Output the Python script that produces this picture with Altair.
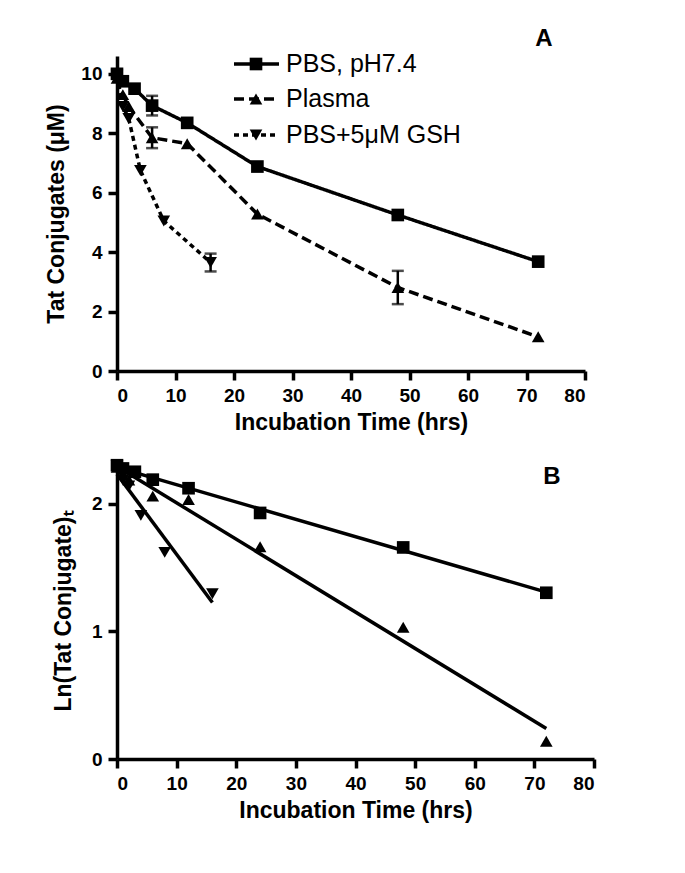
import altair as alt
import pandas as pd

series = ["PBS, pH7.4", "Plasma", "PBS+5\u03bcM GSH"]
shapes = ["square", "triangle-up", "triangle-down"]
dashes = [[1, 0], [10, 5], [5, 4]]

pbs_t = [0, 1, 3, 6, 12, 24, 48, 72]
pbs_v = [10.0, 9.75, 9.5, 8.93, 8.35, 6.88, 5.25, 3.68]
pbs_err = [0, 0, 0, 0.33, 0, 0, 0, 0]

plasma_t = [0, 1, 2, 6, 12, 24, 48, 72]
plasma_v = [9.85, 9.3, 8.9, 7.85, 7.65, 5.28, 2.81, 1.15]
plasma_err = [0, 0, 0, 0.35, 0, 0, 0.56, 0]

gsh_t = [0, 1, 2, 4, 8, 16]
gsh_v = [9.95, 8.9, 8.5, 6.75, 5.05, 3.65]
gsh_err = [0, 0, 0, 0, 0, 0.3]

rows = []
for name, ts, vs, es in [(series[0], pbs_t, pbs_v, pbs_err),
                         (series[1], plasma_t, plasma_v, plasma_err),
                         (series[2], gsh_t, gsh_v, gsh_err)]:
    for t, v, e in zip(ts, vs, es):
        rows.append({"series": name, "t": t, "v": v, "err": e})
df = pd.DataFrame(rows)

FONT = "Liberation Sans"
shape_scale = alt.Scale(domain=series, range=shapes)
dash_scale = alt.Scale(domain=series, range=dashes)

xA = alt.X("t:Q", scale=alt.Scale(domain=[0, 80], nice=False),
           axis=alt.Axis(values=list(range(0, 81, 10)), title="Incubation Time (hrs)"))
yA_title = "Tat Conjugates (\u03bcM)"
yA_scale = alt.Scale(domain=[0, 10.6], nice=False)
yA_axis = alt.Axis(values=[0, 2, 4, 6, 8, 10], title=yA_title, titlePadding=12)

base = alt.Chart(df)
lineA = base.mark_line(color="black", strokeWidth=3.5).encode(
    x=xA, y=alt.Y("v:Q", scale=yA_scale, axis=yA_axis),
    strokeDash=alt.StrokeDash("series:N", scale=dash_scale, legend=None),
    detail="series:N")
ptsA = base.mark_point(filled=True, color="black", opacity=1, size=160).encode(
    x=xA, y=alt.Y("v:Q", scale=yA_scale, axis=yA_axis),
    shape=alt.Shape("series:N", scale=shape_scale, legend=None))
errbase = base.transform_filter("datum.err > 0").transform_calculate(
    lo="datum.v - datum.err", hi="datum.v + datum.err")
errA = errbase.mark_rule(color="black", strokeWidth=2.5).encode(
    x=xA, y=alt.Y("lo:Q", scale=yA_scale, axis=yA_axis), y2="hi:Q")
capLo = errbase.mark_tick(color="black", orient="horizontal", size=12, thickness=2.5).encode(
    x=xA, y=alt.Y("lo:Q", scale=yA_scale, axis=yA_axis))
capHi = errbase.mark_tick(color="black", orient="horizontal", size=12, thickness=2.5).encode(
    x=xA, y=alt.Y("hi:Q", scale=yA_scale, axis=yA_axis))

leg_layers = []
leg_y = [8, 43, 79]
for name, shp, dsh, yy in zip(series, shapes, dashes, leg_y):
    ld = alt.Chart(pd.DataFrame({"label": [name]}))
    leg_layers.append(ld.mark_rule(color="black", strokeWidth=3.5, strokeDash=dsh).encode(
        x=alt.value(117), x2=alt.value(162), y=alt.value(yy)))
    leg_layers.append(ld.mark_point(filled=True, color="black", opacity=1, size=160, shape=shp).encode(
        x=alt.value(139), y=alt.value(yy)))
    leg_layers.append(ld.mark_text(align="left", baseline="middle", fontSize=25, font=FONT).encode(
        x=alt.value(169), y=alt.value(yy), text="label:N"))

letterA = alt.Chart(pd.DataFrame({"p": ["A"]})).mark_text(
    fontSize=24, fontWeight="bold", font=FONT, baseline="middle", align="center").encode(
    x=alt.value(427), y=alt.value(-17), text="p:N")

panelA = alt.layer(lineA, errA, capLo, capHi, ptsA, *leg_layers, letterA).properties(
    width=468, height=315)

# Panel B: natural log of the same values with linear fits
xB = alt.X("t:Q", scale=alt.Scale(domain=[0, 80], nice=False),
           axis=alt.Axis(values=list(range(0, 81, 10)), title="Incubation Time (hrs)"))
yB_scale = alt.Scale(domain=[0, 2.32], nice=False)
yB_axis = alt.Axis(values=[0, 1, 2], title="Ln(Tat Conjugate)\u209c", titlePadding=16)
lnbase = base.transform_calculate(lnv="log(datum.v)")
fitB = lnbase.transform_regression("t", "lnv", groupby=["series"]).mark_line(
    color="black", strokeWidth=3.5).encode(
    x=xB, y=alt.Y("lnv:Q", scale=yB_scale, axis=yB_axis), detail="series:N")
ptsB = lnbase.mark_point(filled=True, color="black", opacity=1, size=160).encode(
    x=xB, y=alt.Y("lnv:Q", scale=yB_scale, axis=yB_axis),
    shape=alt.Shape("series:N", scale=shape_scale, legend=None))
letterB = alt.Chart(pd.DataFrame({"p": ["B"]})).mark_text(
    fontSize=24, fontWeight="bold", font=FONT, baseline="middle", align="center").encode(
    x=alt.value(435), y=alt.value(14), text="p:N")
panelB = alt.layer(fitB, ptsB, letterB).properties(width=477, height=296)

chart = alt.vconcat(panelA, panelB, spacing=92, bounds="flush").properties(
    padding={"top": 19, "left": 37, "right": 10, "bottom": 10}
).configure_view(stroke=None).configure_axis(
    grid=False, domainColor="black", domainWidth=3.5, tickColor="black", tickWidth=3.5,
    tickSize=9, labelFont=FONT, labelFontWeight="bold", labelFontSize=19, labelColor="black",
    titleFont=FONT, titleFontWeight="bold", titleFontSize=23, titleColor="black",
    labelPadding=6, titlePadding=6)

chart.save("out.html", embed_options={"renderer": "svg", "actions": False})
